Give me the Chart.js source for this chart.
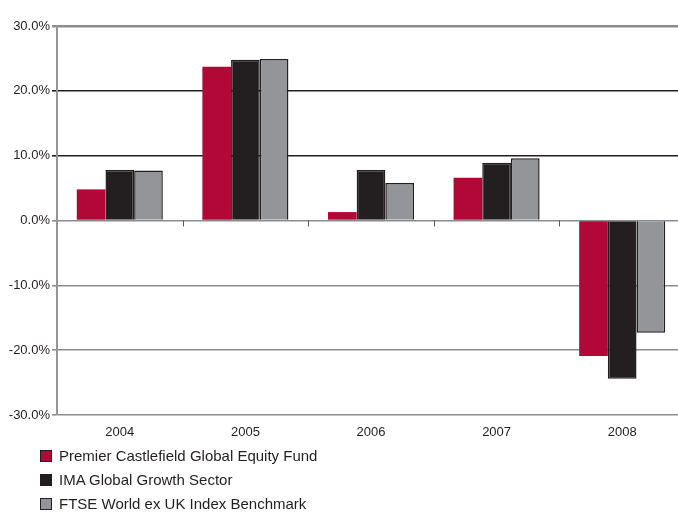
<!DOCTYPE html>
<html>
<head>
<meta charset="utf-8">
<script src="https://cdn.jsdelivr.net/npm/chart.js@4/dist/chart.umd.min.js"></script>
<style>
  html, body { margin: 0; padding: 0; background: #fff; overflow: hidden; }
  body { width: 678px; height: 512px; position: relative; font-family: "Liberation Sans", Arial, sans-serif; }
  #wrap { position: absolute; left: 0; top: 0; width: 690px; height: 445px; }
  #legend { position: absolute; left: 40px; top: 444px; color: #231f20; font-size: 15px; }
  .item { height: 24px; line-height: 24px; white-space: nowrap; }
  .box { display: inline-block; width: 10px; height: 10px; margin-right: 7px; vertical-align: -1px; border: 1px solid #231f20; }
</style>
</head>
<body>
<div id="wrap"><canvas id="chart"></canvas></div>
<div id="legend"></div>
<script>
var years = ['2004', '2005', '2006', '2007', '2008'];
var fundReturns = [4.8, 23.7, 1.3, 6.6, -20.9];
var sectorReturns = [7.8, 24.8, 7.8, 8.9, -24.4];
var benchmarkReturns = [7.7, 24.9, 5.8, 9.6, -17.3];
var seriesNames = [
  'Premier Castlefield Global Equity Fund',
  'IMA Global Growth Sector',
  'FTSE World ex UK Index Benchmark'
];

// small tick marks on the zero line between the year groups
var zeroTicks = {
  id: 'zeroTicks',
  afterDatasetsDraw: function (chart) {
    var x = chart.scales.x;
    var y = chart.scales.y;
    var ctx = chart.ctx;
    var y0 = y.getPixelForValue(0);
    ctx.save();
    ctx.strokeStyle = '#58595b';
    ctx.lineWidth = 1;
    for (var i = 0; i < years.length - 1; i++) {
      var px = Math.round((x.getPixelForValue(i) + x.getPixelForValue(i + 1)) / 2) + 0.5;
      ctx.beginPath();
      ctx.moveTo(px, y0);
      ctx.lineTo(px, y0 + 6);
      ctx.stroke();
    }
    ctx.restore();
  }
};

function buildLegend(chart) {
  var container = document.getElementById('legend');
  chart.data.datasets.forEach(function (ds) {
    var row = document.createElement('div');
    row.className = 'item';
    var box = document.createElement('span');
    box.className = 'box';
    box.style.background = ds.backgroundColor;
    row.appendChild(box);
    row.appendChild(document.createTextNode(ds.label));
    container.appendChild(row);
  });
}

Chart.defaults.font.family = '"Liberation Sans", Arial, sans-serif';
Chart.defaults.color = '#231f20';

var chart = new Chart(document.getElementById('chart').getContext('2d'), {
  type: 'bar',
  data: {
    labels: years,
    datasets: [
      { label: seriesNames[0], data: fundReturns, backgroundColor: '#b20838', borderWidth: 0 },
      { label: seriesNames[1], data: sectorReturns, backgroundColor: '#231f20', borderColor: '#231f20', borderWidth: 1.5 },
      { label: seriesNames[2], data: benchmarkReturns, backgroundColor: '#939598', borderColor: '#231f20', borderWidth: 1.5 }
    ]
  },
  options: {
    responsive: true,
    maintainAspectRatio: false,
    animation: false,
    datasets: { bar: { categoryPercentage: 0.685, barPercentage: 1.0 } },
    layout: { padding: { top: 26, right: 5, left: 0, bottom: 0 } },
    plugins: {
      legend: { display: false },
      tooltip: { enabled: false }
    },
    scales: {
      x: {
        grid: { display: false, drawTicks: false },
        border: { display: false },
        ticks: { font: { size: 13 }, padding: 10, maxRotation: 0 },
        afterFit: function (scale) { scale.height = 30; }
      },
      y: {
        min: -30,
        max: 30,
        border: { display: true, color: '#939598', width: 2 },
        grid: {
          color: function (c) {
            var v = c.tick ? c.tick.value : 0;
            return (v === 10 || v === 20) ? '#231f20' : '#8a8c8e';
          },
          lineWidth: function (c) {
            return (c.tick && c.tick.value === 30) ? 2.5 : 1.6;
          },
          tickLength: 5
        },
        ticks: {
          stepSize: 10,
          font: { size: 13 },
          padding: 2,
          callback: function (v) { return v.toFixed(1) + '%'; }
        },
        afterFit: function (scale) { scale.width = 57; }
      }
    }
  },
  plugins: [zeroTicks]
});

buildLegend(chart);
</script>
</body>
</html>
